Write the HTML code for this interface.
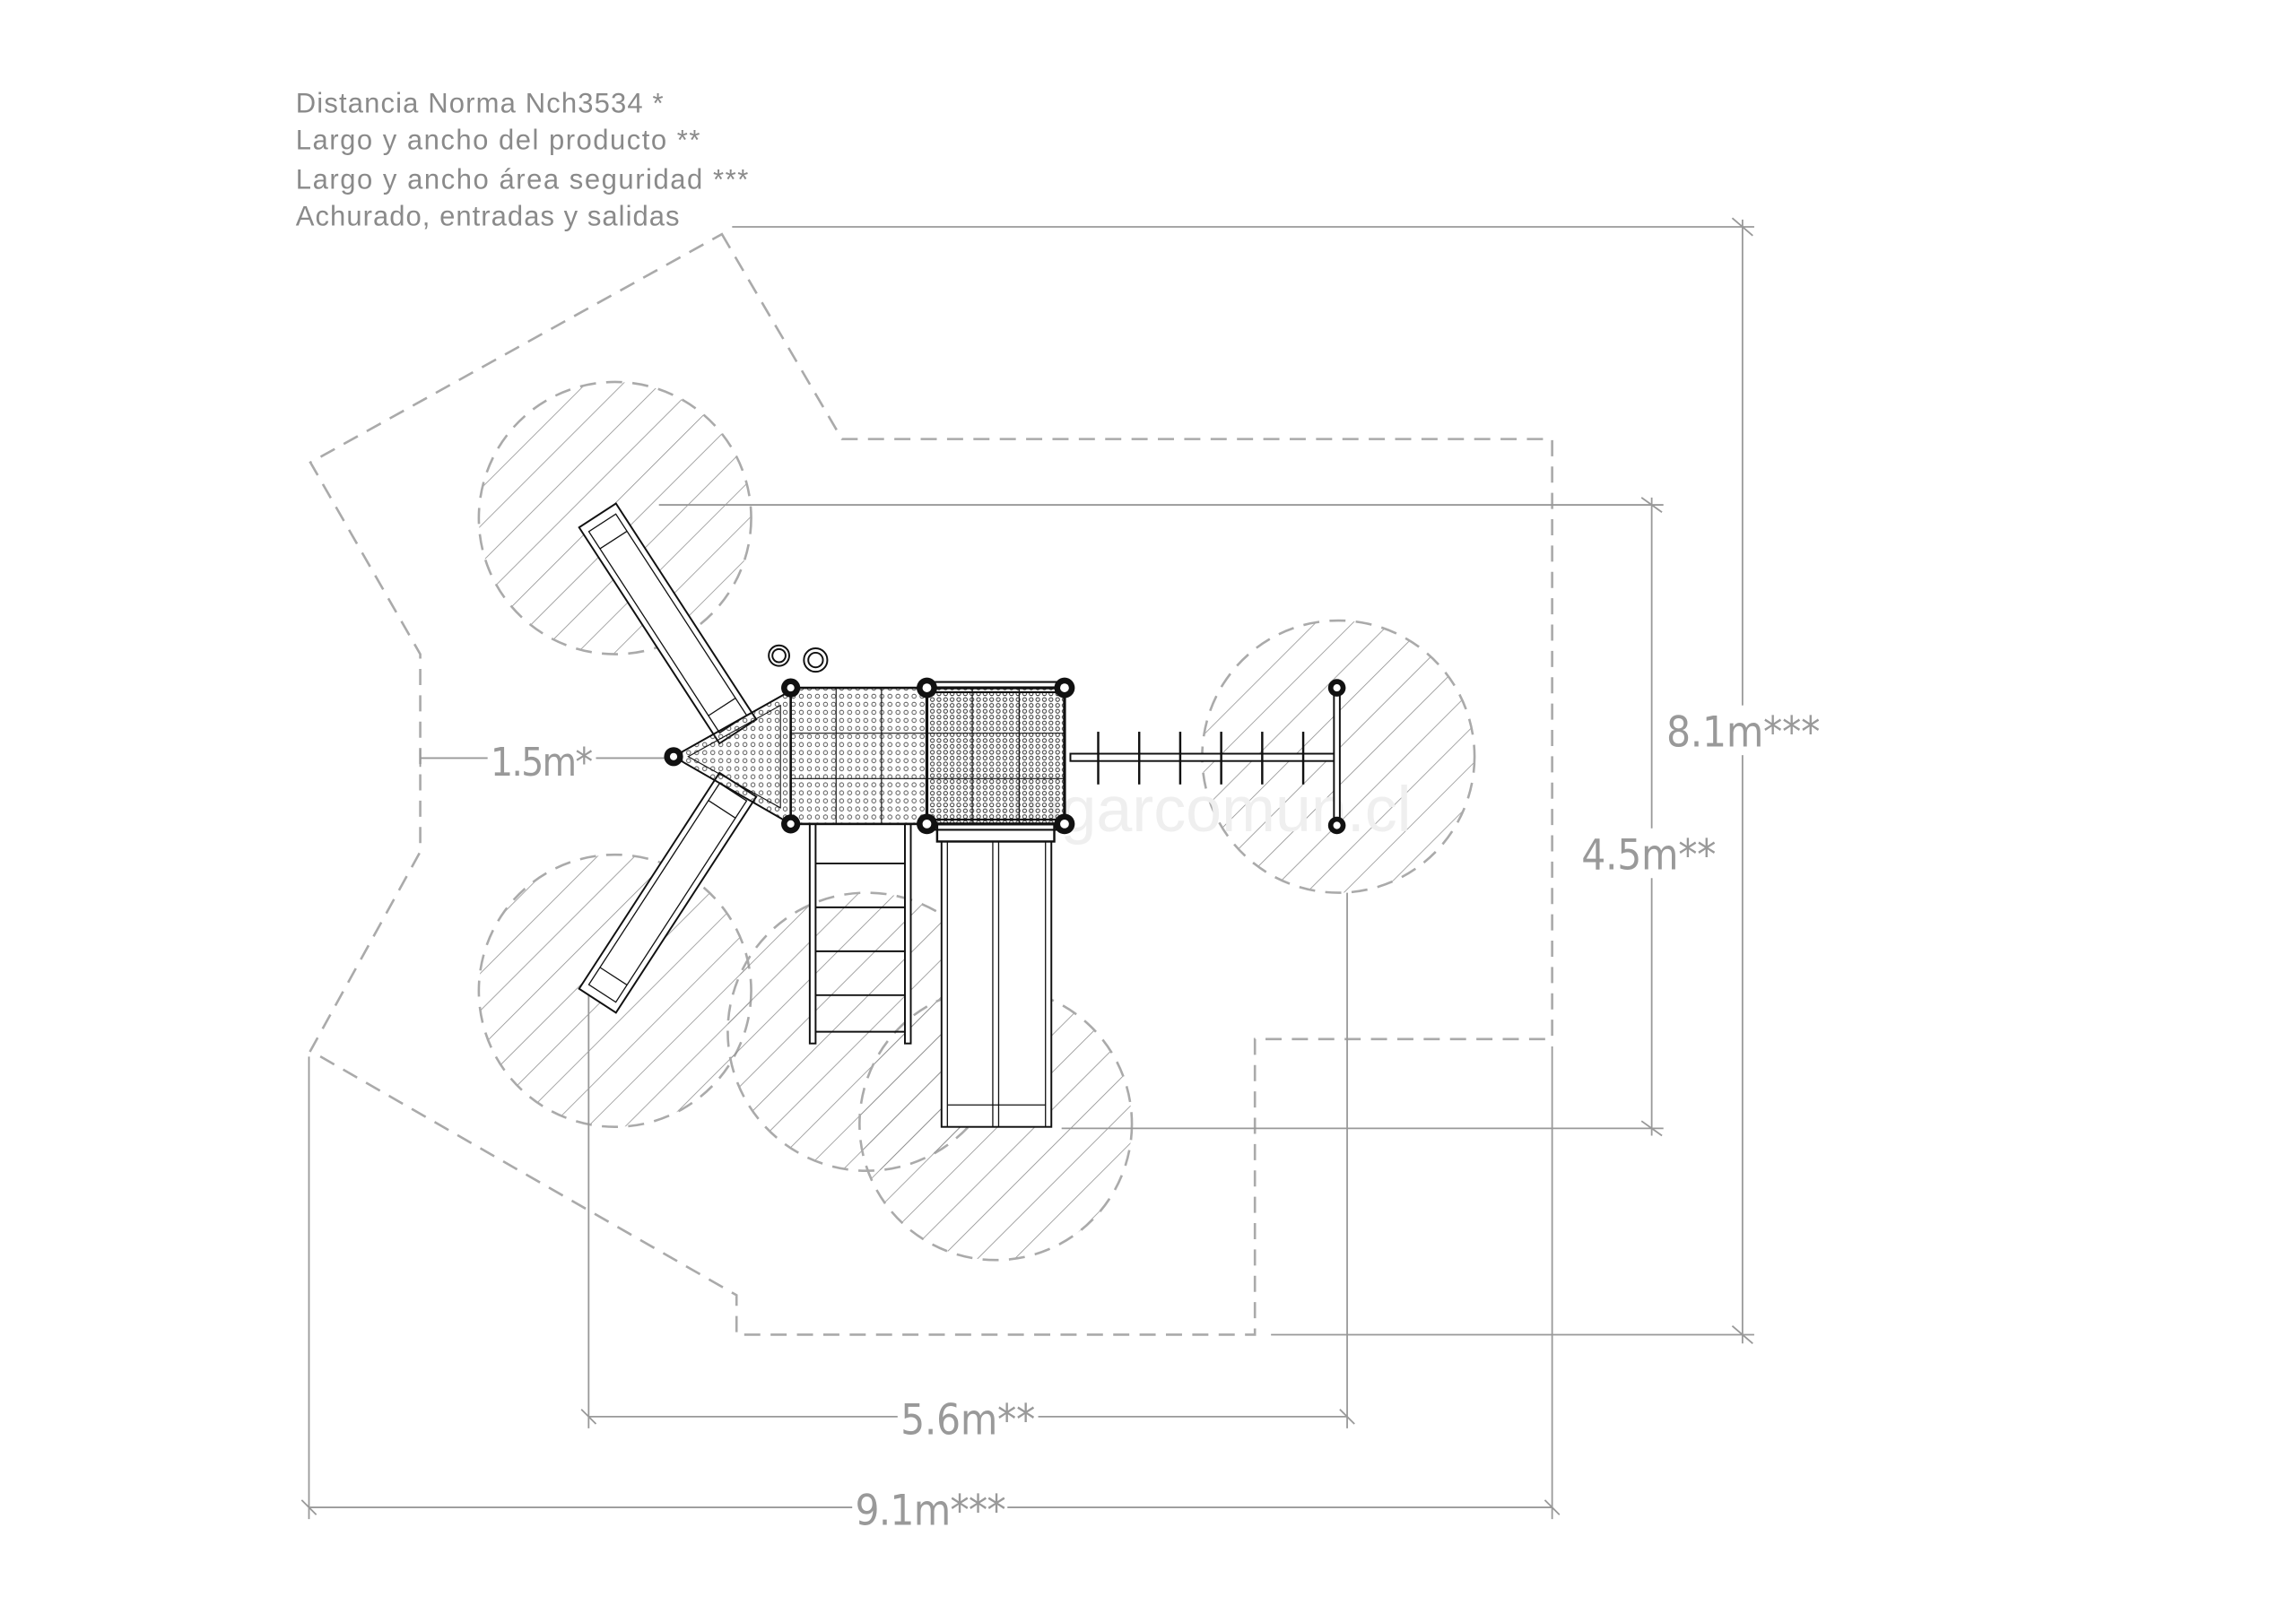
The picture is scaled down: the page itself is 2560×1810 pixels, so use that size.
<!DOCTYPE html>
<html><head><meta charset="utf-8"><style>
html,body{margin:0;padding:0;background:#fff;}
svg{display:block;}
</style></head><body>
<svg width="2560" height="1810" viewBox="0 0 1568 1109" preserveAspectRatio="none" xmlns="http://www.w3.org/2000/svg">
<defs>
<pattern id="hatch" patternUnits="userSpaceOnUse" width="18" height="18" patternTransform="rotate(45)">
<line x1="0" y1="0" x2="0" y2="18" stroke="#888" stroke-width="0.9"/>
</pattern>
<pattern id="dots" patternUnits="userSpaceOnUse" width="5.5" height="5.5">
<circle cx="2.75" cy="2.75" r="1.4" fill="none" stroke="#333" stroke-width="0.5"/>
</pattern>
<pattern id="dots2" patternUnits="userSpaceOnUse" width="4.5" height="4">
<circle cx="2.25" cy="2" r="1.3" fill="none" stroke="#222" stroke-width="0.55"/>
</pattern>
</defs>
<rect width="1568" height="1109" fill="#fff"/>

<g font-family="'Liberation Sans',sans-serif" font-size="19" fill="#8a8a8a">
<text x="202" y="77" textLength="251">Distancia Norma Nch3534 *</text>
<text x="202" y="102" textLength="276">Largo y ancho del producto **</text>
<text x="202" y="129" textLength="309">Largo y ancho área seguridad ***</text>
<text x="202" y="154" textLength="262">Achurado, entradas y salidas</text>
</g>

<g stroke="#aaa" stroke-width="1.6" stroke-dasharray="11 7" fill="url(#hatch)">
<circle cx="420" cy="354" r="93"/>
<circle cx="420" cy="677" r="93"/>
<circle cx="592" cy="705" r="95"/>
<circle cx="680" cy="768" r="93"/>
<circle cx="914" cy="517" r="93"/>
</g>

<polygon points="493,160 575,300 1060,300 1060,710 857,710 857,912 503,912 503,885 212,718 287,582 287,447 212,316"
 fill="none" stroke="#aaa" stroke-width="1.6" stroke-dasharray="11 7"/>

<g stroke="#999" stroke-width="1.1" fill="none">
<line x1="500" y1="155" x2="1198" y2="155"/>
<line x1="868" y1="912" x2="1198" y2="912"/>
<line x1="1190" y1="150" x2="1190" y2="918"/>
<line x1="1183" y1="149" x2="1197" y2="161"/>
<line x1="1183" y1="906" x2="1197" y2="918"/>
<line x1="450" y1="345" x2="1136" y2="345"/>
<line x1="725" y1="771" x2="1136" y2="771"/>
<line x1="1128" y1="340" x2="1128" y2="776"/>
<line x1="1121" y1="340" x2="1135" y2="350"/>
<line x1="1121" y1="766" x2="1135" y2="776"/>
<line x1="402" y1="675" x2="402" y2="976"/>
<line x1="920" y1="610" x2="920" y2="976"/>
<line x1="402" y1="968" x2="920" y2="968"/>
<line x1="397" y1="963" x2="407" y2="973"/>
<line x1="915" y1="963" x2="925" y2="973"/>
<line x1="211" y1="722" x2="211" y2="1038"/>
<line x1="1060" y1="715" x2="1060" y2="1038"/>
<line x1="211" y1="1030" x2="1060" y2="1030"/>
<line x1="206" y1="1025" x2="216" y2="1035"/>
<line x1="1055" y1="1025" x2="1065" y2="1035"/>
<line x1="287" y1="518" x2="455" y2="518"/>
<line x1="287" y1="512" x2="287" y2="524"/>
</g>
<g font-family="'DejaVu Sans Condensed','Liberation Sans',sans-serif" font-size="29" fill="#999">
<rect x="1136" y="482" width="108" height="34" fill="#fff"/>
<text x="1138" y="510" textLength="105">8.1m***</text>
<rect x="1078" y="566" width="96" height="34" fill="#fff"/>
<text x="1080" y="594" textLength="92">4.5m**</text>
<rect x="613" y="952" width="96" height="34" fill="#fff"/>
<text x="615" y="980" textLength="92">5.6m**</text>
<rect x="582" y="1014" width="106" height="34" fill="#fff"/>
<text x="584" y="1042" textLength="103">9.1m***</text>
<rect x="333" y="503" width="74" height="32" fill="#fff"/>
<text x="335" y="530" textLength="70" font-size="27">1.5m*</text>
</g>

<text x="690" y="568" font-family="'Liberation Sans',sans-serif" font-size="44" fill="#efefef">lugarcomun.cl</text>

<g stroke="#111" stroke-width="1.2" fill="#fff">
<g transform="translate(456,426) rotate(-33)">
<rect x="-15" y="-88" width="30" height="176"/>
<rect x="-11" y="-82" width="22" height="164" fill="none" stroke-width="0.8"/>
<line x1="-11" y1="-68" x2="11" y2="-68" stroke-width="0.8"/>
<line x1="-11" y1="68" x2="11" y2="68" stroke-width="0.8"/>
</g>
<g transform="translate(456,610) rotate(33)">
<rect x="-15" y="-88" width="30" height="176"/>
<rect x="-11" y="-82" width="22" height="164" fill="none" stroke-width="0.8"/>
<line x1="-11" y1="-68" x2="11" y2="-68" stroke-width="0.8"/>
<line x1="-11" y1="68" x2="11" y2="68" stroke-width="0.8"/>
</g>
<rect x="553" y="563" width="4" height="150"/>
<rect x="618" y="563" width="4" height="150"/>
<g stroke-width="1.2">
<line x1="557" y1="590" x2="618" y2="590"/>
<line x1="557" y1="620" x2="618" y2="620"/>
<line x1="557" y1="650" x2="618" y2="650"/>
<line x1="557" y1="680" x2="618" y2="680"/>
<line x1="557" y1="705" x2="618" y2="705"/>
</g>
<rect x="643" y="565" width="75" height="205"/>
<line x1="647" y1="565" x2="647" y2="770" stroke-width="0.8"/>
<line x1="714" y1="565" x2="714" y2="770" stroke-width="0.8"/>
<line x1="678" y1="565" x2="678" y2="770" stroke-width="0.8"/>
<line x1="682" y1="565" x2="682" y2="770" stroke-width="0.8"/>
<line x1="647" y1="755" x2="714" y2="755" stroke-width="0.8"/>
<rect x="640" y="563" width="80" height="12" stroke-width="1.5"/>
<polygon points="460,517 540,472 540,563" fill="url(#dots)"/>
<polygon points="470,517 533,482 533,552" fill="none" stroke-width="0.7"/>
<rect x="540" y="470" width="93" height="93" fill="url(#dots)" stroke-width="1.6"/>
<g stroke-width="0.7">
<line x1="571" y1="470" x2="571" y2="563"/><line x1="602" y1="470" x2="602" y2="563"/>
<line x1="540" y1="501" x2="633" y2="501"/><line x1="540" y1="532" x2="633" y2="532"/>
</g>
<rect x="633" y="470" width="94" height="93" fill="url(#dots2)" stroke-width="2"/>
<g stroke-width="0.7">
<line x1="664" y1="470" x2="664" y2="563"/><line x1="696" y1="470" x2="696" y2="563"/>
<line x1="633" y1="501" x2="727" y2="501"/><line x1="633" y1="532" x2="727" y2="532"/>
</g>
<rect x="633" y="466" width="94" height="7" fill="none" stroke-width="1.3"/>
<rect x="633" y="560" width="94" height="7" fill="none" stroke-width="1.3"/>
<circle cx="532" cy="448" r="7"/><circle cx="532" cy="448" r="4.5" fill="none"/>
<circle cx="557" cy="451" r="8"/><circle cx="557" cy="451" r="5" fill="none"/>
<rect x="731" y="515" width="182" height="5"/>
<g stroke-width="1.5">
<line x1="750" y1="500" x2="750" y2="536"/>
<line x1="778" y1="500" x2="778" y2="536"/>
<line x1="806" y1="500" x2="806" y2="536"/>
<line x1="834" y1="500" x2="834" y2="536"/>
<line x1="862" y1="500" x2="862" y2="536"/>
<line x1="890" y1="500" x2="890" y2="536"/>
</g>
<rect x="911" y="470" width="4" height="94"/>
</g>
<g fill="#111" stroke="none">
<circle cx="460" cy="517" r="6.5"/><circle cx="540" cy="470" r="6.5"/><circle cx="540" cy="563" r="6.5"/>
<circle cx="633" cy="470" r="7"/><circle cx="633" cy="563" r="7"/>
<circle cx="727" cy="470" r="7"/><circle cx="727" cy="563" r="7"/>
<circle cx="913" cy="470" r="6"/><circle cx="913" cy="564" r="6"/>
</g>
<g fill="#fff" stroke="none">
<circle cx="460" cy="517" r="2.5"/><circle cx="540" cy="470" r="2.5"/><circle cx="540" cy="563" r="2.5"/>
<circle cx="633" cy="470" r="3"/><circle cx="633" cy="563" r="3"/>
<circle cx="727" cy="470" r="3"/><circle cx="727" cy="563" r="3"/>
<circle cx="913" cy="470" r="2.5"/><circle cx="913" cy="564" r="2.5"/>
</g>
</svg>
</body></html>
